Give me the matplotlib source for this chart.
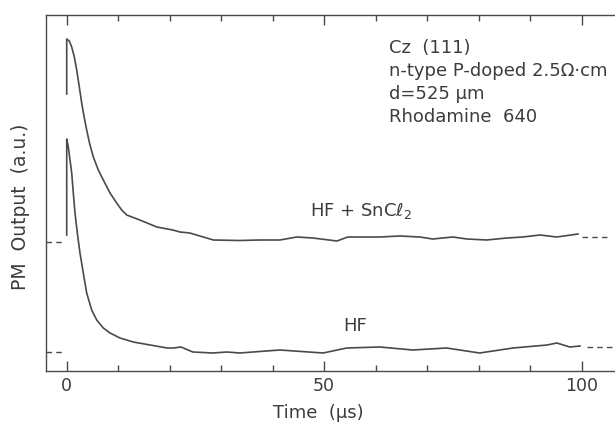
import matplotlib
matplotlib.use("Agg")
import matplotlib.pyplot as plt

# HF + SnCl2 trace (time in us, PM output in a.u.)
t_sncl = [0, 0, 0.50, 0.97, 1.48, 1.94, 2.45, 2.91, 3.42, 3.88, 4.47, 5.17, 6.14, 7.11,
          8.41, 9.71, 10.68, 11.65, 14.2, 17.5, 20.6, 22.0, 23.9, 28.5, 33.6, 37.5,
          41.4, 44.7, 47.8, 52.5, 54.6, 57.5, 60.8, 64.7, 68.6, 71.1, 75.0, 77.7,
          81.6, 85.5, 88.6, 91.9, 95.2, 99.3]
y_sncl = [2.77, 3.32, 3.30, 3.24, 3.14, 3.01, 2.84, 2.68, 2.53, 2.41, 2.27, 2.14, 2.01, 1.91,
          1.78, 1.68, 1.61, 1.56, 1.51, 1.44, 1.41, 1.39, 1.38, 1.31, 1.305, 1.31,
          1.31, 1.34, 1.33, 1.30, 1.34, 1.34, 1.34, 1.35, 1.34, 1.32, 1.34, 1.32,
          1.31, 1.33, 1.34, 1.36, 1.34, 1.37]

# HF trace
t_hf = [0, 0, 0.31, 0.64, 0.97, 1.28, 1.61, 2.06, 2.58, 3.22, 3.88, 4.85, 5.83, 7.11,
        8.41, 10.35, 12.93, 16.2, 19.5, 20.7, 22.2, 24.5, 28.4, 31.1, 33.6, 41.4,
        49.8, 54.4, 60.8, 67.2, 73.8, 78.9, 80.2, 86.7, 93.3, 95.2, 97.7, 99.7]
y_hf = [1.36, 2.32, 2.24, 2.11, 1.98, 1.78, 1.58, 1.38, 1.18, 0.98, 0.78, 0.61, 0.51, 0.43,
        0.38, 0.33, 0.29, 0.26, 0.23, 0.23, 0.24, 0.19, 0.18, 0.19, 0.18, 0.21,
        0.18, 0.23, 0.24, 0.21, 0.23, 0.19, 0.18, 0.23, 0.26, 0.28, 0.24, 0.25]

# zero-level marks (left and right of each trace)
base_sncl = [1.29, 1.34]
base_hf = [0.19, 0.24]

info = ["Cz  (111)", "n-type P-doped 2.5\u03a9\u00b7cm", "d=525 \u03bcm", "Rhodamine  640"]

ink = "#4a4a4a"
txt = "#3c3c3c"
plt.rcParams["font.family"] = ["DejaVu Sans"]

fig = plt.figure(figsize=(6.15, 4.3), dpi=100)
ax = fig.add_axes([45.5 / 615, 1 - 371 / 430, 1 - 45.5 / 615, (371 - 15) / 430])

ax.plot(t_sncl, y_sncl, color=ink, lw=1.2)
ax.plot(t_hf, y_hf, color=ink, lw=1.2)

dash = dict(color=ink, lw=1.0, ls=(0, (4, 3)))
ax.plot([-4.1, -0.3], [base_sncl[0]] * 2, **dash)
ax.plot([100.1, 105.5], [base_sncl[1]] * 2, **dash)
ax.plot([-4.1, -0.3], [base_hf[0]] * 2, **dash)
ax.plot([101.0, 106.1], [base_hf[1]] * 2, **dash)

ax.set_xlim(-4.12, 106.5)
ax.set_ylim(0, 3.56)
ax.set_xticks([0, 50, 100])
ax.set_xticks(range(0, 101, 10), minor=True)
ax.set_yticks([])
ax.tick_params(axis="x", which="both", direction="in", top=True, colors=ink,
               labelsize=12.5, pad=4, width=1.0)
ax.tick_params(axis="x", which="major", length=7)
ax.tick_params(axis="x", which="minor", length=4.5)
for lbl in ax.get_xticklabels():
    lbl.set_color(txt)
for s in ["left", "top", "bottom"]:
    ax.spines[s].set_color(ink)
    ax.spines[s].set_linewidth(1.0)
ax.spines["right"].set_visible(False)

for i, line in enumerate(info):
    ax.text(62.6, 3.23 - 0.23 * i, line, fontsize=13, color=txt, va="center")

ax.text(47.2, 1.60, "HF + SnC\u2113$_2$", fontsize=13, color=txt, va="center")
ax.text(53.7, 0.45, "HF", fontsize=13, color=txt, va="center")

fig.text(20 / 615, 1 - 207 / 430, "PM  Output  (a.u.)", rotation=90, fontsize=13.5,
         color=txt, ha="center", va="center")
fig.text(318 / 615, 1 - 413 / 430, "Time  (\u03bcs)", fontsize=13, color=txt,
         ha="center", va="center")

fig.savefig("out.png", dpi=100)
